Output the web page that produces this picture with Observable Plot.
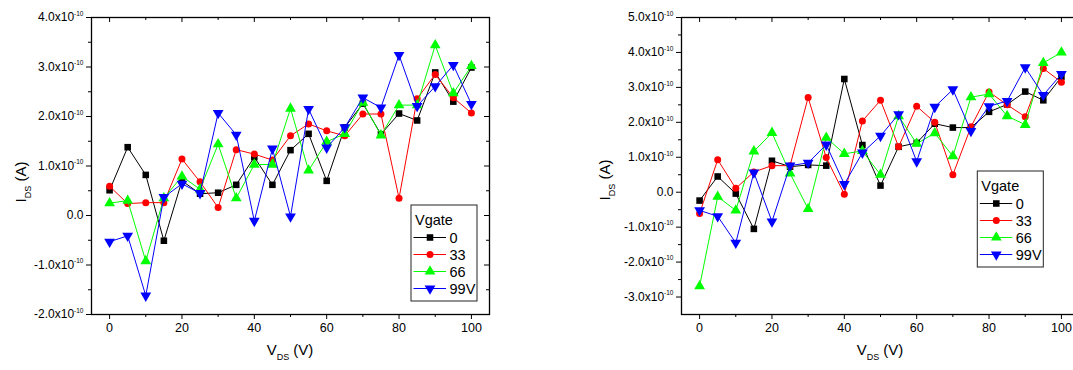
<!DOCTYPE html>
<html><head><meta charset="utf-8">
<script src="https://cdn.jsdelivr.net/npm/d3@7"></script>
<script src="https://cdn.jsdelivr.net/npm/@observablehq/plot@0.6"></script>
<style>
html,body{margin:0;padding:0;background:#fff;overflow:hidden;width:1073px;height:370px;}
#left{position:absolute;left:0;top:0;width:540px;height:370px;}
#right{position:absolute;left:540px;top:0;width:540px;height:370px;}
svg{font-family:"Liberation Sans",Arial,sans-serif;max-width:none !important;}
</style></head><body>
<div id="left"></div><div id="right"></div>
<script>
// ---- data (I_DS in units of 1e-10 A) ----
const vds = [0,5,10,15,20,25,30,35,40,45,50,55,60,65,70,75,80,85,90,95,100];
const seriesNames = ["0","33","66","99V"];
const seriesColors = ["#000000","#ff0000","#00ff00","#0000ff"];

const left0  = [0.51,1.38,0.82,-0.51,0.70,0.44,0.46,0.62,1.18,0.62,1.32,1.65,0.70,1.78,2.26,1.64,2.06,1.92,2.89,2.30,2.99];
const left33 = [0.59,0.24,0.26,0.26,1.14,0.68,0.16,1.33,1.24,1.12,1.61,1.85,1.71,1.61,2.05,2.05,0.35,2.36,2.85,2.38,2.07];
const left66 = [0.25,0.30,-0.92,0.35,0.79,0.53,1.44,0.35,1.03,1.03,2.16,0.91,1.49,1.65,2.28,1.62,2.23,2.23,3.44,2.47,3.02];
const left99 = [-0.53,-0.41,-1.62,0.37,0.64,0.45,2.07,1.63,-0.11,1.35,-0.02,2.15,1.37,1.78,2.38,2.18,3.24,2.21,2.61,3.04,2.25];

const right0  = [-0.24,0.45,-0.04,-1.05,0.90,0.73,0.78,0.76,3.24,1.35,0.19,1.30,1.41,1.96,1.85,1.85,2.30,2.51,2.88,2.63,3.30];
const right33 = [-0.61,0.93,0.11,0.58,0.76,0.76,2.71,0.99,-0.06,2.04,2.63,1.30,2.46,2.00,0.50,1.87,2.87,2.50,2.16,3.54,3.15];
const right66 = [-2.69,-0.13,-0.52,1.17,1.70,0.54,-0.48,1.56,1.10,1.18,0.50,2.18,1.39,1.69,1.03,2.72,2.81,2.18,1.93,3.70,4.00];
const right99 = [-0.52,-0.69,-1.45,0.56,-0.84,0.76,0.84,1.36,0.23,1.13,1.61,2.23,0.88,2.44,2.94,1.75,2.46,2.61,3.57,2.78,3.38];

const xTicks = [0,20,40,60,80,100];
const xMinor = [10,30,50,70,90];
const leftYTicks = [-2,-1,0,1,2,3,4];
const leftYMinor = [-1.5,-0.5,0.5,1.5,2.5,3.5];
const rightYTicks = [-3,-2,-1,0,1,2,3,4,5];
const rightYMinor = [-2.5,-1.5,-0.5,0.5,1.5,2.5,3.5,4.5];

const symbolNames = ["square","circle","triangle","triangle"];
const symbolRotate = [0,0,0,180];
const symbolR = [3.7,3.5,4.0,4.0];

function fmtY(d){ return d === 0 ? "0.0" : d.toFixed(1) + "x10"; }

function makePanel(el, cfg){
  const W = 540, H = 370, mt = 17, mb = 56;
  const ml = cfg.marginLeft, mr = cfg.marginRight;
  const plotW = W - ml - mr, plotH = H - mt - mb;
  const marks = [];
  marks.push(Plot.axisY(cfg.yTicks, {anchor:"left", tickSize:5, tickPadding:3, tickFormat: fmtY, label:null, fontSize:12}));
  marks.push(Plot.axisY(cfg.yMinor, {anchor:"left", tickSize:3, tickFormat: () => "", label:null}));
  marks.push(Plot.axisX(xTicks, {anchor:"bottom", tickSize:5, tickPadding:4, label:null, fontSize:12.5}));
  marks.push(Plot.axisX(xMinor, {anchor:"bottom", tickSize:3, tickFormat: () => "", label:null}));
  marks.push(Plot.tickY(cfg.yTicks, {y: d => d, insetLeft: plotW - 5, stroke:"#000"}));
  marks.push(Plot.tickY(cfg.yMinor, {y: d => d, insetLeft: plotW - 3, stroke:"#000"}));
  marks.push(Plot.tickX(xTicks, {x: d => d, insetBottom: plotH - 5, stroke:"#000"}));
  marks.push(Plot.tickX(xMinor, {x: d => d, insetBottom: plotH - 3, stroke:"#000"}));
  cfg.series.forEach((vals, s) => {
    const data = vals.map((v,i) => ({x: vds[i], y: v}));
    marks.push(Plot.line(data, {x:"x", y:"y", stroke: seriesColors[s], strokeWidth:1}));
    marks.push(Plot.dot(data, {x:"x", y:"y", symbol: symbolNames[s], fill: seriesColors[s], stroke:"none", r: symbolR[s], rotate: symbolRotate[s]}));
  });
  marks.push(Plot.frame({stroke:"#000", strokeWidth:1.3}));

  const chart = Plot.plot({
    width: W, height: H,
    marginLeft: ml, marginRight: mr, marginTop: mt, marginBottom: mb,
    x: {domain: [-5,105]},
    y: {domain: cfg.yDomain},
    style: {fontFamily: '"Liberation Sans", Arial, sans-serif', color:"#000", background:"#fff", overflow:"visible", maxWidth:"none"},
    marks
  });
  el.appendChild(chart);
  const svg = d3.select(chart);

  svg.selectAll('g[aria-label="y-axis tick label"] text').each(function(){
    const t = this.textContent;
    if (t.endsWith("x10")) {
      d3.select(this).append("tspan").attr("dy", "-5.5").attr("font-size", "6.5px").text("-10");
    }
  });

  const ff = '"Liberation Sans", Arial, sans-serif';
  const cx = ml + plotW/2;
  const xt = svg.append("text").attr("x", cx).attr("y", 355).attr("text-anchor","middle")
    .attr("font-family", ff).attr("font-size", 15).attr("fill","#000");
  xt.append("tspan").text("V");
  xt.append("tspan").attr("font-size", 9).attr("dy", 5).text("DS");
  xt.append("tspan").attr("dy", -5).text(" (V)");
  const yt = svg.append("text").attr("transform", `translate(${cfg.yTitleX},${cfg.yTitleY}) rotate(-90)`)
    .attr("text-anchor","middle").attr("font-family", ff).attr("font-size", 15).attr("fill","#000");
  yt.append("tspan").text("I");
  yt.append("tspan").attr("font-size", 9).attr("dy", 5).text("DS");
  yt.append("tspan").attr("dy", -5).text(" (A)");

  const lx = cfg.legendX, ly = cfg.legendY;
  const lg = svg.append("g").attr("text-anchor","start");
  lg.append("rect").attr("x", lx).attr("y", ly).attr("width", 66).attr("height", 96)
    .attr("fill","#fff").attr("stroke","#222").attr("stroke-width",1);
  lg.append("text").attr("x", lx+4).attr("y", ly+20).attr("text-anchor","start").attr("font-family", ff).attr("font-size", 14.5).attr("fill","#000").text("Vgate");
  seriesNames.forEach((name, s) => {
    const yy = ly + 32.5 + s*17;
    lg.append("line").attr("x1", lx+2.5).attr("x2", lx+35).attr("y1", yy).attr("y2", yy)
      .attr("stroke", seriesColors[s]).attr("stroke-width", 1);
    const sym = {square: d3.symbolSquare, circle: d3.symbolCircle, triangle: d3.symbolTriangle}[symbolNames[s]];
    lg.append("path").attr("d", d3.symbol(sym, Math.PI*symbolR[s]*symbolR[s])())
      .attr("transform", `translate(${lx+19},${yy}) rotate(${symbolRotate[s]})`).attr("fill", seriesColors[s]);
    lg.append("text").attr("x", lx+38.5).attr("y", yy+5.2).attr("text-anchor","start").attr("font-family", ff).attr("font-size", 14.5).attr("fill","#000").text(name);
  });
}

makePanel(document.getElementById("left"), {
  marginLeft: 91, marginRight: 51, yDomain: [-2,4],
  yTicks: leftYTicks, yMinor: leftYMinor,
  series: [left0, left33, left66, left99],
  yTitleX: 26, yTitleY: 182, legendX: 411, legendY: 205
});
makePanel(document.getElementById("right"), {
  marginLeft: 141, marginRight: 1, yDomain: [-3.5,5],
  yTicks: rightYTicks, yMinor: rightYMinor,
  series: [right0, right33, right66, right99],
  yTitleX: 70, yTitleY: 180, legendX: 437.3, legendY: 171
});
</script>
</body></html>
